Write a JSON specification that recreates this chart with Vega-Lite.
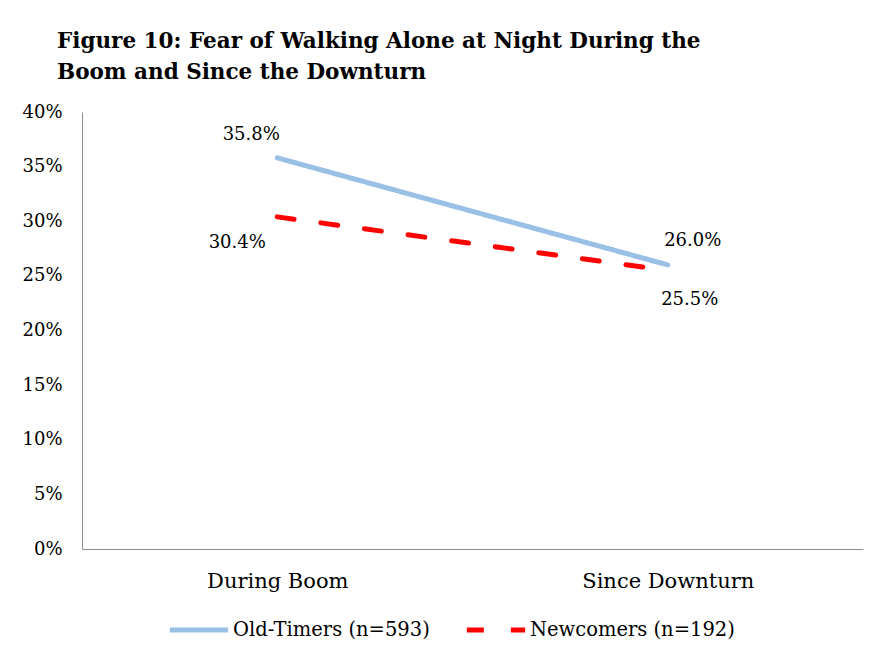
{
  "$schema": "https://vega.github.io/schema/vega-lite/v6.json",
  "autosize": {"type": "none"},
  "width": 781,
  "height": 437,
  "padding": {"left": 82, "top": 112, "right": 15, "bottom": 106},
  "background": "white",
  "config": {"view": {"stroke": null}, "font": "DejaVu Serif"},
  "title": {
    "text": ["Figure 10: Fear of Walking Alone at Night During the", "Boom and Since the Downturn"],
    "anchor": "start", "frame": "group", "dx": -25, "offset": 20,
    "fontSize": 21.5, "fontWeight": "bold", "font": "DejaVu Serif", "color": "black", "lineHeight": 31
  },
  "data": {"values": [
    {"period": "During Boom", "group": "Old-Timers (n=593)", "value": 0.358},
    {"period": "Since Downturn", "group": "Old-Timers (n=593)", "value": 0.26},
    {"period": "During Boom", "group": "Newcomers (n=192)", "value": 0.304},
    {"period": "Since Downturn", "group": "Newcomers (n=192)", "value": 0.255}
  ]},
  "encoding": {
    "x": {"field": "period", "type": "nominal", "sort": ["During Boom", "Since Downturn"],
      "scale": {"type": "point", "padding": 0.5},
      "axis": {"title": null, "labelAngle": 0, "ticks": false, "domainColor": "#8c8c8c", "labelFontSize": 21, "labelPadding": 21, "labelColor": "black", "grid": false}},
    "y": {"field": "value", "type": "quantitative",
      "scale": {"domain": [0, 0.4], "nice": false},
      "axis": {"title": null, "format": ".0%", "values": [0, 0.05, 0.1, 0.15, 0.2, 0.25, 0.3, 0.35, 0.4], "grid": false, "ticks": false, "labelPadding": 20, "labelFontSize": 18, "labelColor": "black", "domainColor": "#8c8c8c"}}
  },
  "layer": [
    {
      "mark": {"type": "line", "strokeWidth": 5, "strokeCap": "round"},
      "encoding": {
        "color": {"field": "group", "type": "nominal",
          "scale": {"domain": ["Old-Timers (n=593)", "Newcomers (n=192)"], "range": ["#9BC0E6", "#FF0000"]},
          "legend": {"orient": "none", "direction": "horizontal", "legendX": 85, "legendY": 486, "title": null, "labelFontSize": 19.5, "labelColor": "black", "labelLimit": 400, "symbolType": "stroke", "symbolStrokeWidth": 5, "symbolSize": 3400, "labelOffset": 2, "columnPadding": 26}},
        "strokeDash": {"field": "group", "type": "nominal",
          "scale": {"domain": ["Old-Timers (n=593)", "Newcomers (n=192)"], "range": [[1, 0], [17, 27]]},
          "legend": {"orient": "none", "direction": "horizontal", "legendX": 85, "legendY": 486, "title": null, "labelFontSize": 19.5, "labelColor": "black", "labelLimit": 400, "symbolType": "stroke", "symbolStrokeWidth": 5, "symbolSize": 3400, "labelOffset": 2, "columnPadding": 26}}
      }
    },
    {
      "transform": [{"filter": "datum.group == 'Old-Timers (n=593)' && datum.period == 'During Boom'"}],
      "mark": {"type": "text", "fontSize": 18, "color": "black", "dx": -26, "dy": -23},
      "encoding": {"text": {"field": "value", "type": "quantitative", "format": ".1%"}}
    },
    {
      "transform": [{"filter": "datum.group == 'Newcomers (n=192)' && datum.period == 'During Boom'"}],
      "mark": {"type": "text", "fontSize": 18, "color": "black", "dx": -40, "dy": 26},
      "encoding": {"text": {"field": "value", "type": "quantitative", "format": ".1%"}}
    },
    {
      "transform": [{"filter": "datum.group == 'Old-Timers (n=593)' && datum.period == 'Since Downturn'"}],
      "mark": {"type": "text", "fontSize": 18, "color": "black", "dx": 25, "dy": -24},
      "encoding": {"text": {"field": "value", "type": "quantitative", "format": ".1%"}}
    },
    {
      "transform": [{"filter": "datum.group == 'Newcomers (n=192)' && datum.period == 'Since Downturn'"}],
      "mark": {"type": "text", "fontSize": 18, "color": "black", "dx": 22, "dy": 30},
      "encoding": {"text": {"field": "value", "type": "quantitative", "format": ".1%"}}
    }
  ]
}
